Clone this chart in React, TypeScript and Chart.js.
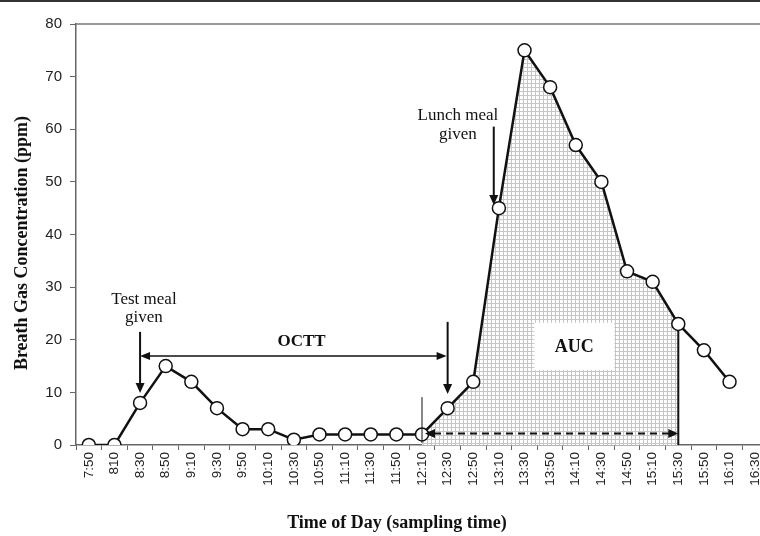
import React, { useEffect, useRef } from "react";
import { Chart, registerables } from "chart.js";
Chart.register(...registerables);

const timeLabels = ["7:50", "810", "8:30", "8:50", "9:10", "9:30", "9:50", "10:10", "10:30", "10:50", "11:10", "11:30", "11:50", "12:10", "12:30", "12:50", "13:10", "13:30", "13:50", "14:10", "14:30", "14:50", "15:10", "15:30", "15:50", "16:10", "16:30"];
const breathGas: (number | null)[] = [0, 0, 8, 15, 12, 7, 3, 3, 1, 2, 2, 2, 2, 2, 7, 12, 45, 75, 68, 57, 50, 33, 31, 23, 18, 12, null];
const aucStart = 13; // 12:10
const aucEnd = 23; // 15:30
const testMealIndex = 2; // 8:30
const octtEndIndex = 14; // 12:30
const lunchIndex = 16; // 13:10
const yMin = 0;
const yMax = 80;
const yStep = 10;

const aucData = breathGas.map((v, i) => (i >= aucStart && i <= aucEnd ? v : null));

function arrowHead(ctx: CanvasRenderingContext2D, x1: number, y1: number, x2: number, y2: number, len: number, half: number) {
  const a = Math.atan2(y2 - y1, x2 - x1);
  ctx.beginPath();
  ctx.moveTo(x2, y2);
  ctx.lineTo(x2 - len * Math.cos(a) + half * Math.sin(a), y2 - len * Math.sin(a) - half * Math.cos(a));
  ctx.lineTo(x2 - len * Math.cos(a) - half * Math.sin(a), y2 - len * Math.sin(a) + half * Math.cos(a));
  ctx.closePath();
  ctx.fill();
}

function arrow(ctx: CanvasRenderingContext2D, x1: number, y1: number, x2: number, y2: number, w: number, len: number, half: number, both = false, dash: number[] = []) {
  const a = Math.atan2(y2 - y1, x2 - x1);
  ctx.save();
  ctx.strokeStyle = "#111";
  ctx.fillStyle = "#111";
  ctx.lineWidth = w;
  ctx.setLineDash(dash);
  ctx.beginPath();
  const sx = both ? x1 + (len - 1) * Math.cos(a) : x1;
  const sy = both ? y1 + (len - 1) * Math.sin(a) : y1;
  ctx.moveTo(sx, sy);
  ctx.lineTo(x2 - (len - 1) * Math.cos(a), y2 - (len - 1) * Math.sin(a));
  ctx.stroke();
  ctx.setLineDash([]);
  arrowHead(ctx, x1, y1, x2, y2, len, half);
  if (both) arrowHead(ctx, x2, y2, x1, y1, len, half);
  ctx.restore();
}

const annotPlugin = {
  id: "annot",
  afterDatasetDraw(chart: any, args: any) {
    if (args.index !== 1) return;
    const ctx: CanvasRenderingContext2D = chart.ctx;
    const xs = chart.scales.x;
    const ys = chart.scales.y;
    ctx.save();
    // AUC label box
    const bx1 = xs.getPixelForValue(17.38);
    const bx2 = xs.getPixelForValue(20.5);
    const by1 = ys.getPixelForValue(23.2);
    const by2 = ys.getPixelForValue(14.25);
    ctx.fillStyle = "#fff";
    ctx.fillRect(bx1, by1, bx2 - bx1, by2 - by1);
    ctx.fillStyle = "#111";
    ctx.font = 'bold 18px "Liberation Serif"';
    ctx.textAlign = "center";
    ctx.textBaseline = "middle";
    ctx.fillText("AUC", (bx1 + bx2) / 2, (by1 + by2) / 2 + 1);
    // vertical line at end of AUC
    const xe = xs.getPixelForValue(aucEnd);
    ctx.strokeStyle = "#111";
    ctx.lineWidth = 2;
    ctx.beginPath();
    ctx.moveTo(xe, ys.getPixelForValue(breathGas[aucEnd] as number));
    ctx.lineTo(xe, ys.getPixelForValue(0));
    ctx.stroke();
    ctx.restore();
  },
  afterDatasetsDraw(chart: any) {
    const ctx: CanvasRenderingContext2D = chart.ctx;
    const xs = chart.scales.x;
    const ys = chart.scales.y;
    const X = (v: number) => xs.getPixelForValue(v);
    const Y = (v: number) => ys.getPixelForValue(v);
    ctx.save();
    // thin vertical at AUC start
    const xa = X(aucStart);
    ctx.strokeStyle = "#111";
    ctx.lineWidth = 1;
    ctx.beginPath();
    ctx.moveTo(xa, Y(9.1));
    ctx.lineTo(xa, Y(0.4));
    ctx.stroke();
    // dashed AUC arrow
    arrow(ctx, xa + 3, Y(2.2), X(aucEnd), Y(2.2), 2, 10, 4.5, true, [7, 5]);
    // test meal arrow
    arrow(ctx, X(testMealIndex), Y(21.5), X(testMealIndex), Y(9.9), 2, 10, 4.5);
    // octt end arrow
    arrow(ctx, X(octtEndIndex), Y(23.4), X(octtEndIndex), Y(9.7), 2, 10, 4.5);
    // octt double arrow
    arrow(ctx, X(testMealIndex), Y(16.9), X(octtEndIndex) - 1, Y(16.9), 1.5, 10, 4, true);
    // lunch arrow
    arrow(ctx, X(lunchIndex - 0.2), Y(60.5), X(lunchIndex - 0.2), Y(45.6), 2, 10, 4.5);
    // texts
    ctx.fillStyle = "#111";
    ctx.textAlign = "center";
    ctx.textBaseline = "middle";
    ctx.font = '17px "Liberation Serif"';
    ctx.fillText("Test meal", X(testMealIndex + 0.15), Y(27.6));
    ctx.fillText("given", X(testMealIndex + 0.15), Y(24.2));
    ctx.fillText("Lunch meal", X(lunchIndex - 1.6), Y(62.7));
    ctx.fillText("given", X(lunchIndex - 1.6), Y(59.0));
    ctx.font = 'bold 17px "Liberation Serif"';
    ctx.fillText("OCTT", X(8.3), Y(19.7));
    ctx.restore();
  },
  afterDraw(chart: any) {
    const ctx: CanvasRenderingContext2D = chart.ctx;
    const ca = chart.chartArea;
    const ys = chart.scales.y;
    ctx.save();
    // top frame line at max
    ctx.strokeStyle = "#777";
    ctx.lineWidth = 1.5;
    ctx.beginPath();
    ctx.moveTo(ca.left, ys.getPixelForValue(yMax));
    ctx.lineTo(ca.right + 10, ys.getPixelForValue(yMax));
    ctx.stroke();
    // figure top border
    ctx.fillStyle = "#333";
    ctx.fillRect(0, 0, chart.width, 2);
    // axis titles
    ctx.fillStyle = "#111";
    ctx.font = 'bold 18px "Liberation Serif"';
    ctx.textAlign = "center";
    ctx.textBaseline = "middle";
    ctx.fillText("Time of Day (sampling time)", 397, 523);
    ctx.translate(22, 243);
    ctx.rotate(-Math.PI / 2);
    ctx.fillText("Breath Gas Concentration (ppm)", 0, 0);
    ctx.restore();
  },
};

export default function App() {
  const ref = useRef<HTMLCanvasElement | null>(null);
  useEffect(() => {
    const canvas = ref.current!;
    const pc = document.createElement("canvas");
    pc.width = 4;
    pc.height = 4;
    const p = pc.getContext("2d")!;
    p.fillStyle = "#ffffff";
    p.fillRect(0, 0, 4, 4);
    p.fillStyle = "#c6c6c6";
    p.fillRect(3, 0, 1, 4);
    p.fillRect(0, 3, 4, 1);
    const pattern = canvas.getContext("2d")!.createPattern(pc, "repeat");

    const chart = new Chart(canvas, {
      type: "line",
      data: {
        labels: timeLabels,
        datasets: [
          {
            data: breathGas,
            borderColor: "#111",
            borderWidth: 2.5,
            pointRadius: 6.5,
            pointBorderWidth: 1.5,
            pointBackgroundColor: "#fff",
            pointBorderColor: "#111",
            fill: false,
            tension: 0,
            order: 1,
          },
          {
            data: aucData,
            borderWidth: 0,
            borderColor: "rgba(0,0,0,0)",
            pointRadius: 0,
            backgroundColor: pattern as any,
            fill: "origin",
            tension: 0,
            order: 2,
          },
        ],
      },
      options: {
        responsive: false,
        animation: false,
        events: [],
        layout: { padding: { left: 0, right: 3, top: 24, bottom: 0 } },
        plugins: { legend: { display: false }, tooltip: { enabled: false } },
        scales: {
          x: {
            type: "category",
            offset: true,
            afterFit: (s: any) => {
              s.height = 91;
            },
            border: { color: "#666", width: 1.5 },
            grid: { offset: true, drawOnChartArea: false, drawTicks: true, tickLength: 5, color: "#666", lineWidth: 1 },
            ticks: {
              autoSkip: false,
              minRotation: 90,
              maxRotation: 90,
              padding: 2,
              color: "#222",
              font: { family: '"Liberation Sans", Arial', size: 13.5 },
            },
          },
          y: {
            min: yMin,
            max: yMax,
            afterFit: (s: any) => {
              s.width = 76;
            },
            border: { color: "#666", width: 1.5 },
            grid: { drawOnChartArea: false, drawTicks: true, tickLength: 6, color: "#666", lineWidth: 1 },
            ticks: {
              stepSize: yStep,
              padding: 8,
              color: "#222",
              font: { family: '"Liberation Sans", Arial', size: 15 },
            },
          },
        },
      },
      plugins: [annotPlugin],
    });
    return () => chart.destroy();
  }, []);
  return (
    <div style={{ position: "fixed", left: 0, top: 0, width: 760, height: 536, overflow: "hidden", background: "#fff" }}>
      <canvas ref={ref} width={776} height={536} style={{ display: "block" }} />
    </div>
  );
}
